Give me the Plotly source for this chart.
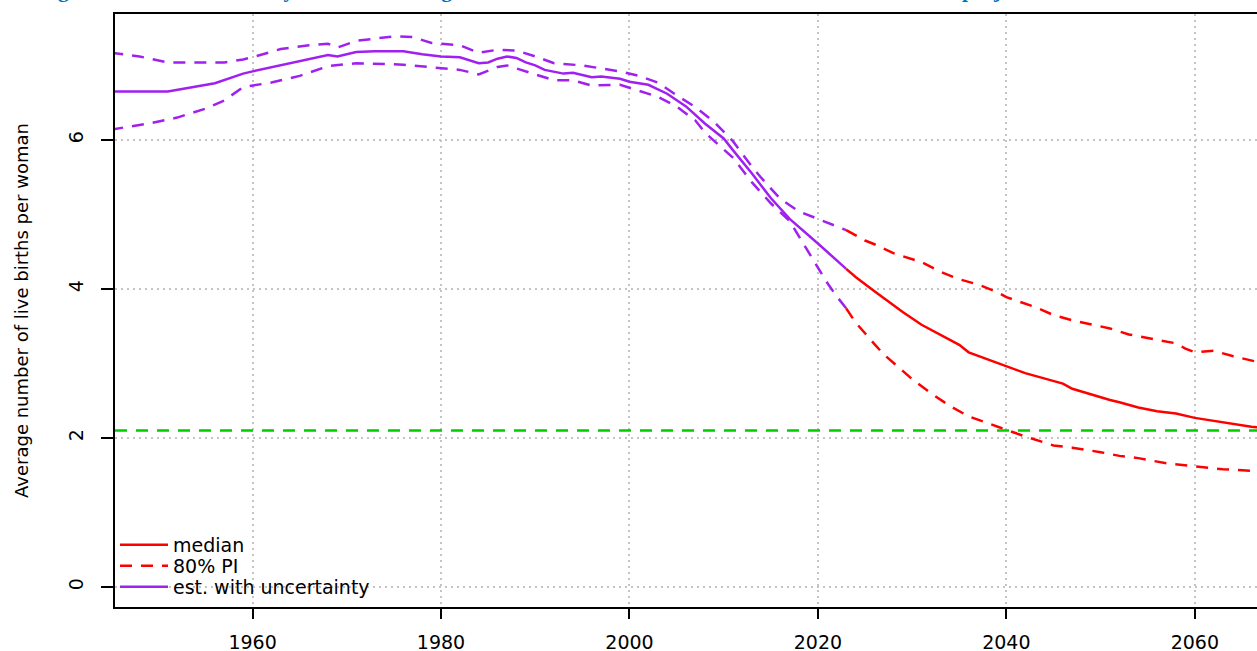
import plotly.graph_objects as go

# ---------------- data ----------------
est_years = [1945, 1951, 1956, 1959, 1960, 1965, 1968, 1969, 1971, 1973, 1976, 1978,
             1980, 1982, 1984, 1985, 1986, 1987, 1988, 1989, 1990, 1991, 1993, 1994,
             1996, 1997, 1999, 2000, 2002, 2004, 2006, 2008, 2010, 2011, 2013, 2015,
             2017, 2020, 2023]
est_median = [6.65, 6.65, 6.76, 6.89, 6.92, 7.06, 7.14, 7.12, 7.18, 7.19, 7.19, 7.15,
              7.12, 7.11, 7.03, 7.04, 7.09, 7.12, 7.10, 7.04, 7.00, 6.94, 6.89, 6.90,
              6.84, 6.85, 6.82, 6.78, 6.74, 6.62, 6.45, 6.22, 6.02, 5.86, 5.55, 5.22,
              4.94, 4.61, 4.27]

est_upper_years = [1945, 1948, 1951, 1957, 1959, 1960, 1963, 1966, 1968, 1969, 1971,
                   1975, 1977, 1979, 1982, 1984, 1986, 1988, 1990, 1992, 1995, 1997,
                   1999, 2001, 2003, 2005, 2007, 2009, 2011, 2012, 2013, 2014, 2016,
                   2018, 2020, 2022, 2023]
est_upper = [7.17, 7.12, 7.04, 7.04, 7.08, 7.11, 7.22, 7.27, 7.29, 7.24, 7.33,
             7.39, 7.38, 7.30, 7.27, 7.17, 7.21, 7.20, 7.12, 7.03, 7.00, 6.96,
             6.92, 6.86, 6.77, 6.60, 6.44, 6.24, 5.98, 5.81, 5.64, 5.49, 5.21,
             5.04, 4.94, 4.83, 4.79]

est_lower_years = [1945, 1949, 1952, 1955, 1957, 1959, 1962, 1965, 1968, 1971, 1976,
                   1979, 1982, 1984, 1986, 1987, 1989, 1992, 1994, 1996, 1999, 2001,
                   2003, 2005, 2007, 2008, 2011, 2013, 2015, 2017, 2018, 2019, 2020,
                   2021, 2022, 2023]
est_lower = [6.14, 6.22, 6.30, 6.42, 6.53, 6.71, 6.77, 6.86, 6.99, 7.03, 7.01,
             6.97, 6.94, 6.88, 6.98, 7.00, 6.92, 6.80, 6.80, 6.73, 6.74, 6.66,
             6.58, 6.45, 6.26, 6.10, 5.76, 5.43, 5.15, 4.91, 4.70, 4.50, 4.28,
             4.08, 3.90, 3.74]

proj_years = [2023, 2024, 2026, 2029, 2031, 2033, 2035, 2036, 2038, 2040, 2042, 2044,
              2046, 2047, 2049, 2051, 2052, 2054, 2056, 2058, 2060, 2062, 2064, 2066,
              2068]
proj_median = [4.27, 4.16, 3.97, 3.69, 3.52, 3.38, 3.25, 3.15, 3.06, 2.97, 2.87, 2.80,
               2.73, 2.66, 2.58, 2.51, 2.48, 2.41, 2.36, 2.33, 2.27, 2.23, 2.19, 2.15,
               2.13]

proj_upper_years = [2023, 2025, 2026, 2028, 2031, 2033, 2035, 2037, 2039, 2040, 2043,
                    2045, 2047, 2049, 2051, 2053, 2056, 2058, 2059, 2060, 2062, 2064,
                    2067, 2068]
proj_upper = [4.79, 4.65, 4.60, 4.48, 4.36, 4.23, 4.13, 4.06, 3.96, 3.89, 3.76,
              3.65, 3.58, 3.53, 3.47, 3.39, 3.32, 3.27, 3.20, 3.15, 3.17, 3.10,
              3.01, 2.99]

proj_lower_years = [2023, 2024, 2026, 2027, 2029, 2030, 2032, 2034, 2036, 2039, 2040,
                    2042, 2045, 2047, 2050, 2052, 2054, 2057, 2060, 2063, 2066, 2068]
proj_lower = [3.74, 3.55, 3.26, 3.12, 2.90, 2.79, 2.60, 2.43, 2.29, 2.15, 2.11,
              2.02, 1.90, 1.87, 1.81, 1.76, 1.73, 1.66, 1.62, 1.58, 1.56, 1.55]

replacement_level = 2.1

x_ticks = [1960, 1980, 2000, 2020, 2040, 2060]
y_ticks = [0, 2, 4, 6]
x_range = [1945.4, 2066.6]
y_range = [-0.268, 7.69]

title_text = ("Figure 5.1 The total fertility rate and its range: estimates and the UN 2024 "
              "median and 80% interval projections")
y_title = "Average number of live births per woman"

# ---------------- styles ----------------
RED = "#FF0000"
PURPLE = "#A020F0"
GREEN = "#00CD00"
DASH = "12px,9px"
LW = 2.5

fig = go.Figure()

fig.add_trace(go.Scatter(x=est_upper_years, y=est_upper, mode="lines",
                         line=dict(color=PURPLE, width=LW, dash=DASH),
                         showlegend=False, hoverinfo="skip"))
fig.add_trace(go.Scatter(x=est_lower_years, y=est_lower, mode="lines",
                         line=dict(color=PURPLE, width=LW, dash=DASH),
                         showlegend=False, hoverinfo="skip"))
fig.add_trace(go.Scatter(x=est_years, y=est_median, mode="lines",
                         line=dict(color=PURPLE, width=LW),
                         name="est. with uncertainty", legend="legend3"))
fig.add_trace(go.Scatter(x=proj_upper_years, y=proj_upper, mode="lines",
                         line=dict(color=RED, width=LW, dash=DASH),
                         name="80% PI", legendgroup="pi", legend="legend2"))
fig.add_trace(go.Scatter(x=proj_lower_years, y=proj_lower, mode="lines",
                         line=dict(color=RED, width=LW, dash=DASH),
                         name="80% PI", legendgroup="pi", showlegend=False,
                         legend="legend2"))
fig.add_trace(go.Scatter(x=proj_years, y=proj_median, mode="lines",
                         line=dict(color=RED, width=LW),
                         name="median", legend="legend"))

fig.add_shape(type="line", xref="paper", x0=0, x1=1, yref="y",
              y0=replacement_level, y1=replacement_level,
              line=dict(color=GREEN, width=LW, dash=DASH), layer="above")

fig.add_annotation(text="<b>" + title_text + "</b>", xref="paper", yref="paper",
                   x=0, y=1, xanchor="left", yanchor="bottom", xshift=-78, yshift=10,
                   showarrow=False,
                   font=dict(family="Liberation Serif", size=21.5, color="#0070C0"))

legend_style = dict(x=0, xanchor="left", yanchor="middle", bgcolor="rgba(0,0,0,0)",
                    font=dict(size=19), itemwidth=48, tracegroupgap=0)

fig.update_layout(
    width=1257, height=651,
    margin=dict(l=115, r=0, t=14, b=44, autoexpand=False),
    plot_bgcolor="white", paper_bgcolor="white",
    font=dict(family="DejaVu Sans", size=19, color="black"),
    legend=dict(y=0.1046, **legend_style),
    legend2=dict(y=0.0691, **legend_style),
    legend3=dict(y=0.0337, **legend_style),
)
fig.update_xaxes(range=x_range, tickvals=x_ticks, ticks="outside", ticklen=10,
                 tickwidth=2, tickcolor="black", showline=True, linecolor="black",
                 linewidth=2, mirror=True, showgrid=True, gridcolor="#C4C4C4",
                 gridwidth=1.5, griddash="2px,4px", zeroline=False,
                 ticklabelstandoff=7, automargin=False)
fig.update_yaxes(range=y_range, tickvals=y_ticks, ticks="outside", ticklen=12,
                 tickwidth=2, tickcolor="black", showline=True, linecolor="black",
                 linewidth=2, mirror=False, showgrid=True, gridcolor="#C4C4C4",
                 gridwidth=1.5, griddash="2px,4px", zeroline=False, tickangle=-90,
                 ticklabelstandoff=10, automargin=False,
                 title=dict(text=y_title, font=dict(size=18), standoff=32))

fig.write_html("out.html",
               config={"displayModeBar": False},
               post_script="document.body.style.margin='0';"
                           "document.body.style.overflow='hidden';")
